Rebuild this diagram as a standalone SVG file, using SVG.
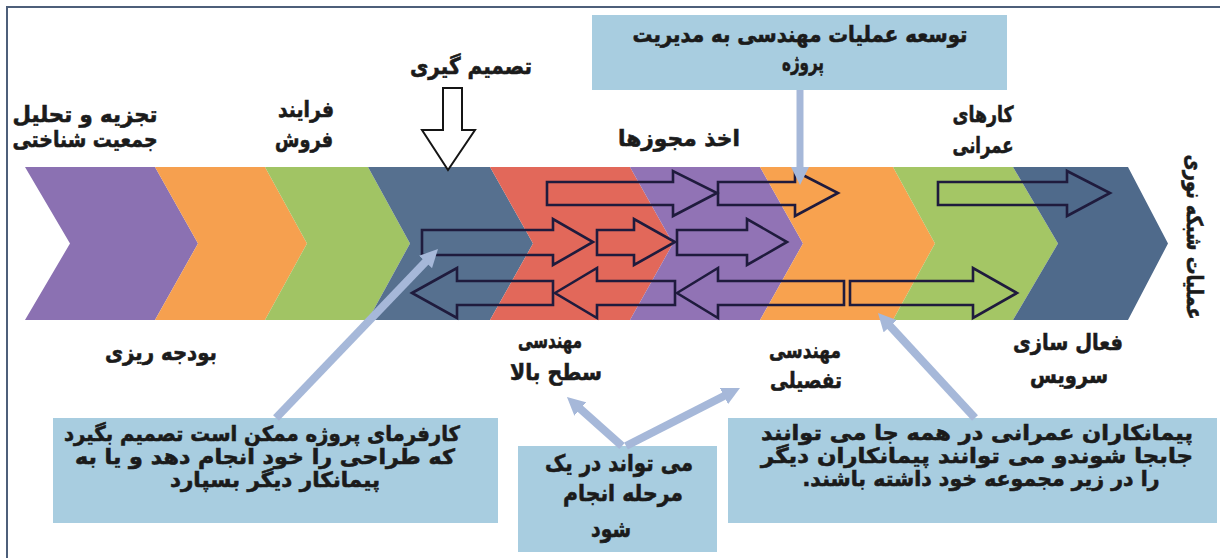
<svg xmlns="http://www.w3.org/2000/svg" width="1220" height="558" viewBox="0 0 1220 558">
  <defs>
    <style>
      .t { font-family: "DejaVu Sans", "Noto Sans", sans-serif; font-weight: bold; fill: #1b1b1b; stroke: #1b1b1b; stroke-width: 0.6; text-anchor: middle; direction: rtl; }
      .s21 { font-size: 21px; }
      .s22 { font-size: 22px; }
      .s23 { font-size: 23px; }
      .flow { fill: none; stroke: #1f1b3d; stroke-width: 2.6; stroke-linejoin: miter; }
      .box { fill: #a8cde0; }
      .callout { fill: none; stroke: #a6b8d9; stroke-width: 8; stroke-linecap: butt; marker-end: url(#head); }
    </style>
    <marker id="head" viewBox="0 0 18 18" markerWidth="18" markerHeight="18" markerUnits="userSpaceOnUse" refX="4" refY="9" orient="auto">
      <path d="M0,0 L18,9 L0,18 Z" fill="#a6b8d9"/>
    </marker>
  </defs>

  <rect width="1220" height="558" fill="#ffffff"/>
  <!-- page frame -->
  <path d="M7,558 V7 H1220" fill="none" stroke="#4d5f7a" stroke-width="2"/>

  <!-- stage chevrons, left to right -->
  <g id="stage-demography"><polygon points="25,167 155,167 198,243.5 155,320 25,320 70,243.5" fill="#8b71b2"/></g>
  <g id="stage-sales"><polygon points="155,167 265,167 307,243.5 265,320 155,320 198,243.5" fill="#f6a04f"/></g>
  <g id="stage-budget"><polygon points="265,167 368,167 410,243.5 368,320 265,320 307,243.5" fill="#a1c464"/></g>
  <g id="stage-decision"><polygon points="368,167 490,167 533,243.5 490,320 368,320 410,243.5" fill="#56708f"/></g>
  <g id="stage-high-level"><polygon points="490,167 630,167 673,243.5 630,320 490,320 533,243.5" fill="#e2685a"/></g>
  <g id="stage-permits"><polygon points="630,167 760,167 803,243.5 760,320 630,320 673,243.5" fill="#9173b5"/></g>
  <g id="stage-detailed"><polygon points="760,167 893,167 935,243.5 893,320 760,320 803,243.5" fill="#f8a24f"/></g>
  <g id="stage-civil"><polygon points="893,167 1013,167 1058,243.5 1013,320 893,320 935,243.5" fill="#a4c665"/></g>
  <g id="stage-activation"><polygon points="1013,167 1128,167 1168,243.5 1128,320 1013,320 1058,243.5" fill="#4f6a8b"/></g>

  <!-- outlined work-flow arrows across the stages -->
  <g id="flow-arrows" class="flow">
    <path d="M547,182 H673 V171 L717,193 L673,216 V205 H547 Z"/>
    <path d="M718,182 H795 V171 L838,193 L795,216 V205 H718 Z"/>
    <path d="M938,182 H1067 V171 L1110,193 L1067,216 V205 H938 Z"/>
    <path d="M422,230 H553 V219 L593,242 L553,265 V255 H422 Z"/>
    <path d="M597,230 H634 V219 L675,242 L634,265 V255 H597 Z"/>
    <path d="M677,230 H747 V219 L787,242 L747,265 V255 H677 Z"/>
    <path d="M412,293 L457,268 V281 H553 V305 H457 V318 Z"/>
    <path d="M555,293 L597,268 V281 H675 V305 H597 V318 Z"/>
    <path d="M677,293 L718,268 V281 H844 V305 H718 V318 Z"/>
    <path d="M850,281 H973 V268 L1017,293 L973,318 V305 H850 Z"/>
  </g>

  <!-- decision point -->
  <g id="decision">
    <text class="t s23" x="471" y="74" textLength="122" lengthAdjust="spacingAndGlyphs">تصمیم گیری</text>
    <path d="M443,88 H462 V130 H475 L448,170 L422,130 H443 Z" fill="#ffffff" stroke="#151515" stroke-width="2"/>
  </g>

  <!-- stage labels -->
  <g id="label-demography">
    <text class="t s22" x="85" y="122" textLength="145" lengthAdjust="spacingAndGlyphs">تجزیه و تحلیل</text>
    <text class="t s22" x="85" y="147" textLength="145" lengthAdjust="spacingAndGlyphs">جمعیت شناختی</text>
  </g>
  <g id="label-sales">
    <text class="t s22" x="306" y="117" textLength="56" lengthAdjust="spacingAndGlyphs">فرایند</text>
    <text class="t s22" x="304" y="147" textLength="58" lengthAdjust="spacingAndGlyphs">فروش</text>
  </g>
  <g id="label-permits">
    <text class="t s22" x="679" y="146" textLength="122" lengthAdjust="spacingAndGlyphs">اخذ مجوزها</text>
  </g>
  <g id="label-civil">
    <text class="t s22" x="983" y="122" textLength="61" lengthAdjust="spacingAndGlyphs">کارهای</text>
    <text class="t s22" x="983" y="153" textLength="61" lengthAdjust="spacingAndGlyphs">عمرانی</text>
  </g>
  <g id="label-budget">
    <text class="t s22" x="161" y="360" textLength="112" lengthAdjust="spacingAndGlyphs">بودجه ریزی</text>
  </g>
  <g id="label-high-level">
    <text class="t s22" x="550" y="348" textLength="64" lengthAdjust="spacingAndGlyphs">مهندسی</text>
    <text class="t s22" x="556" y="380" textLength="92" lengthAdjust="spacingAndGlyphs">سطح بالا</text>
  </g>
  <g id="label-detailed">
    <text class="t s22" x="805" y="358" textLength="72" lengthAdjust="spacingAndGlyphs">مهندسی</text>
    <text class="t s22" x="806" y="388" textLength="72" lengthAdjust="spacingAndGlyphs">تفصیلی</text>
  </g>
  <g id="label-activation">
    <text class="t s22" x="1068" y="350" textLength="110" lengthAdjust="spacingAndGlyphs">فعال سازی</text>
    <text class="t s22" x="1069" y="383" textLength="78" lengthAdjust="spacingAndGlyphs">سرویس</text>
  </g>
  <g id="label-fiber">
    <text class="t s22" transform="translate(1194,237) rotate(90)" x="0" y="7" textLength="165" lengthAdjust="spacingAndGlyphs">عملیات شبکه نوری</text>
  </g>

  <!-- note boxes -->
  <g id="note-pm">
    <rect class="box" x="592" y="15" width="415" height="75"/>
    <text class="t s22" x="800" y="42" textLength="335" lengthAdjust="spacingAndGlyphs">توسعه عملیات مهندسی به مدیریت</text>
    <text class="t s22" x="803" y="70" textLength="42" lengthAdjust="spacingAndGlyphs">پروژه</text>
  </g>
  <g id="note-employer">
    <rect class="box" x="53" y="418" width="445" height="105"/>
    <text class="t s21" x="262" y="441" textLength="396" lengthAdjust="spacingAndGlyphs">کارفرمای پروژه ممکن است تصمیم بگیرد</text>
    <text class="t s21" x="265" y="464" textLength="380" lengthAdjust="spacingAndGlyphs">که طراحی را خود انجام دهد و یا به</text>
    <text class="t s21" x="275" y="487" textLength="210" lengthAdjust="spacingAndGlyphs">پیمانکار دیگر بسپارد</text>
  </g>
  <g id="note-single-stage">
    <rect class="box" x="518" y="446" width="199" height="106"/>
    <text class="t s23" x="619" y="471" textLength="148" lengthAdjust="spacingAndGlyphs">می تواند در یک</text>
    <text class="t s23" x="623" y="501" textLength="120" lengthAdjust="spacingAndGlyphs">مرحله انجام</text>
    <text class="t s23" x="611" y="537" textLength="40" lengthAdjust="spacingAndGlyphs">شود</text>
  </g>
  <g id="note-contractors">
    <rect class="box" x="728" y="418" width="489" height="105"/>
    <text class="t s21" x="977" y="440" textLength="432" lengthAdjust="spacingAndGlyphs">پیمانکاران عمرانی در همه جا می توانند</text>
    <text class="t s21" x="977" y="463" textLength="432" lengthAdjust="spacingAndGlyphs">جابجا شوندو می توانند پیمانکاران دیگر</text>
    <text class="t s21" x="981" y="486" textLength="357" lengthAdjust="spacingAndGlyphs">را در زیر مجموعه خود داشته باشند.</text>
  </g>

  <!-- callout connectors -->
  <g id="connectors">
    <line class="callout" x1="800" y1="90" x2="800" y2="171" style="stroke-width:7"/>
    <line class="callout" x1="276" y1="418" x2="428.3" y2="259.1"/>
    <line class="callout" x1="622" y1="446" x2="577.4" y2="406.3"/>
    <line class="callout" x1="626" y1="446" x2="727.5" y2="394.3"/>
    <line class="callout" x1="975" y1="418" x2="887.5" y2="323.3"/>
  </g>
</svg>
